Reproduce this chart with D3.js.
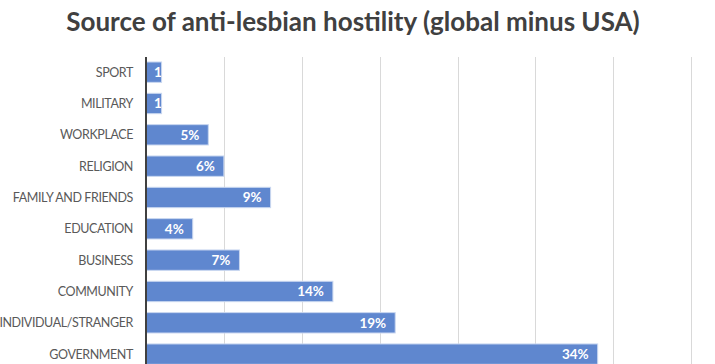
<!DOCTYPE html>
<html>
<head>
<meta charset="utf-8">
<script src="https://cdn.jsdelivr.net/npm/d3@7"></script>
<style>
  body { margin: 0; background: #fff; }
  svg { display: block; }
  .title { font-family: Lato, "Open Sans", sans-serif; font-weight: bold; font-size: 26px; fill: #404040; }
  .cat { font-family: Lato, "Open Sans", sans-serif; font-size: 12.5px; letter-spacing: -0.4px; fill: #595959; }
  .val { font-family: Lato, "Open Sans", sans-serif; font-weight: bold; font-size: 13.5px; fill: #fff; }
</style>
</head>
<body>
<svg width="715" height="364"></svg>
<script>
// categories, top to bottom
var categories = ["SPORT", "MILITARY", "WORKPLACE", "RELIGION", "FAMILY AND FRIENDS",
                  "EDUCATION", "BUSINESS", "COMMUNITY", "INDIVIDUAL/STRANGER", "GOVERNMENT"];
// bar lengths read against the gridlines (one gridline = 10)
var counts = [2, 2, 8, 10, 16, 6, 12, 24, 32, 58];
// data labels as printed on the bars
var labels = ["1%", "1%", "5%", "6%", "9%", "4%", "7%", "14%", "19%", "34%"];
var gridTicks = [0, 10, 20, 30, 40, 50, 60, 70, 80];

var svg = d3.select("svg");

var x = d3.scaleLinear()
    .domain([0, 80])
    .range([146, 769]);

var y = d3.scaleBand()
    .domain(categories)
    .range([56.5, 369.8])
    .paddingInner(0.35)
    .paddingOuter(0.175);

svg.append("text")
    .attr("class", "title")
    .attr("x", 353)
    .attr("y", 31)
    .attr("text-anchor", "middle")
    .text("Source of anti-lesbian hostility (global minus USA)");

// vertical gridlines
svg.append("g")
    .selectAll("line")
    .data(gridTicks.slice(1))
    .enter().append("line")
    .attr("x1", function (d) { return Math.round(x(d)) + 0.5; })
    .attr("x2", function (d) { return Math.round(x(d)) + 0.5; })
    .attr("y1", 57)
    .attr("y2", 364)
    .style("stroke", "#d9d9d9")
    .style("stroke-width", 1);

var clip = svg.append("defs");

var rows = svg.append("g")
    .selectAll("g")
    .data(categories)
    .enter().append("g");

rows.append("rect")
    .attr("x", x(0))
    .attr("y", function (d) { return y(d); })
    .attr("width", function (d, i) { return x(counts[i]) - x(0); })
    .attr("height", y.bandwidth())
    .style("fill", "#5f87cf")
    .style("stroke", "#c9d7f0")
    .style("stroke-width", 1);

clip.selectAll("clipPath")
    .data(categories)
    .enter().append("clipPath")
    .attr("id", function (d, i) { return "bar" + i; })
    .append("rect")
    .attr("x", x(0))
    .attr("y", function (d) { return y(d); })
    .attr("width", function (d, i) { return x(counts[i]) - x(0); })
    .attr("height", y.bandwidth());

// category labels
rows.append("text")
    .attr("class", "cat")
    .attr("x", 133)
    .attr("y", function (d) { return y(d) + y.bandwidth() / 2; })
    .attr("dy", "0.35em")
    .attr("text-anchor", "end")
    .text(function (d) { return d; });

// data labels, inside end; too-narrow bars get them from the start, clipped
rows.append("text")
    .attr("class", "val")
    .attr("clip-path", function (d, i) { return "url(#bar" + i + ")"; })
    .attr("y", function (d) { return y(d) + y.bandwidth() / 2; })
    .attr("dy", "0.36em")
    .text(function (d, i) { return labels[i]; })
    .each(function (d, i) {
        var w = this.getComputedTextLength(),
            barW = x(counts[i]) - x(0);
        if (barW < w + 16) {
            d3.select(this).attr("x", x(0) + 8).attr("text-anchor", "start");
        } else {
            d3.select(this).attr("x", x(counts[i]) - 9).attr("text-anchor", "end");
        }
    });

// category axis line
svg.append("line")
    .attr("x1", x(0))
    .attr("x2", x(0))
    .attr("y1", 57)
    .attr("y2", 364)
    .style("stroke", "#404040")
    .style("stroke-width", 2);
</script>
</body>
</html>
